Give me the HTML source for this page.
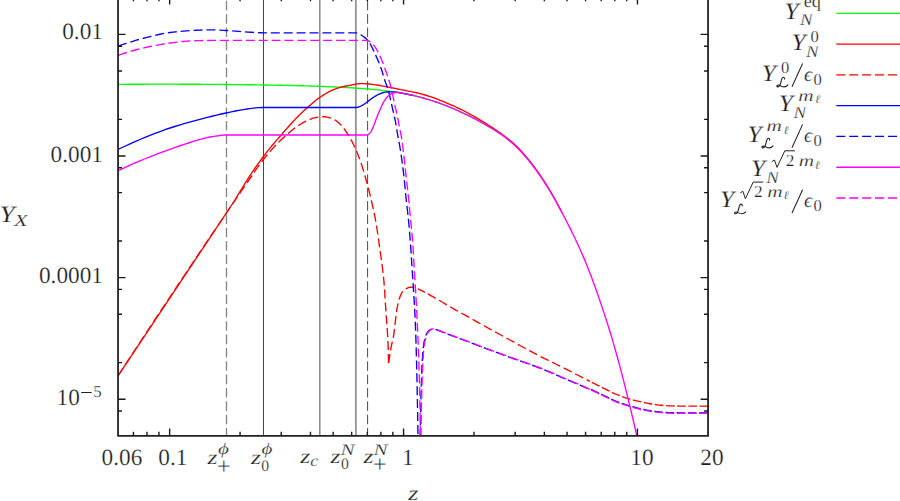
<!DOCTYPE html>
<html><head><meta charset="utf-8"><title>Y_X vs z</title>
<style>html,body{margin:0;padding:0;background:#fff;overflow:hidden}svg{display:block}text{font-family:"Liberation Serif",serif;text-rendering:geometricPrecision;stroke:#fff;stroke-width:0.22px}</style>
</head><body>
<svg width="900" height="501" viewBox="0 0 900 501">
<rect width="900" height="501" fill="#fff"/>
<defs><clipPath id="c"><rect x="118.05" y="-5" width="590.0" height="440.95"/></clipPath></defs>
<line x1="226.5" y1="-12.55" x2="226.5" y2="435.95" stroke="#878787" stroke-width="1.35" stroke-dasharray="9.6 3.75"/>
<line x1="263.5" y1="-12.55" x2="263.5" y2="435.95" stroke="#333" stroke-width="0.9"/>
<line x1="319.8" y1="-12.55" x2="319.8" y2="435.95" stroke="#808080" stroke-width="1.4"/>
<line x1="355.9" y1="-12.55" x2="355.9" y2="435.95" stroke="#808080" stroke-width="1.5"/>
<line x1="367.6" y1="-12.55" x2="367.6" y2="435.95" stroke="#4a4a4a" stroke-width="1.0" stroke-dasharray="9.6 3.75"/>
<g clip-path="url(#c)" fill="none" stroke-width="1.35" stroke-linejoin="round">
<path d="M118.00,84.37 L120.00,84.35 L122.00,84.34 L124.00,84.32 L126.00,84.31 L128.00,84.29 L130.00,84.28 L132.00,84.27 L134.00,84.26 L136.00,84.25 L138.00,84.24 L140.00,84.23 L142.00,84.22 L144.00,84.21 L146.00,84.20 L148.00,84.20 L150.00,84.19 L152.00,84.19 L154.00,84.19 L156.00,84.18 L158.00,84.18 L160.00,84.18 L162.00,84.18 L164.00,84.18 L166.00,84.18 L168.00,84.18 L170.00,84.18 L172.00,84.19 L174.00,84.19 L176.00,84.19 L178.00,84.20 L180.00,84.20 L182.00,84.21 L184.00,84.21 L186.00,84.22 L188.00,84.23 L190.00,84.24 L192.00,84.25 L194.00,84.26 L196.00,84.27 L198.00,84.28 L200.00,84.29 L202.00,84.30 L204.00,84.31 L206.00,84.33 L208.00,84.34 L210.00,84.35 L212.00,84.37 L214.00,84.38 L216.00,84.40 L218.00,84.42 L220.00,84.43 L222.00,84.45 L224.00,84.47 L226.00,84.49 L228.00,84.51 L230.00,84.53 L232.00,84.55 L234.00,84.57 L236.00,84.59 L238.00,84.61 L240.00,84.64 L242.00,84.66 L244.00,84.68 L246.00,84.71 L248.00,84.74 L250.00,84.76 L252.00,84.79 L254.00,84.82 L256.00,84.85 L258.00,84.87 L260.00,84.90 L262.00,84.94 L264.00,84.97 L266.00,85.00 L268.00,85.03 L270.00,85.07 L272.00,85.10 L274.00,85.14 L276.00,85.18 L278.00,85.21 L280.00,85.25 L282.00,85.29 L284.00,85.34 L286.00,85.38 L288.00,85.42 L290.00,85.47 L292.00,85.51 L294.00,85.56 L296.00,85.61 L298.00,85.66 L300.00,85.71 L302.00,85.77 L304.00,85.82 L306.00,85.88 L308.00,85.94 L310.00,86.00 L312.00,86.06 L314.00,86.12 L316.00,86.19 L318.00,86.26 L320.00,86.33 L322.00,86.40 L324.00,86.48 L326.00,86.56 L328.00,86.64 L330.00,86.72 L332.00,86.80 L334.00,86.89 L336.00,86.98 L338.00,87.08 L340.00,87.18 L342.00,87.28 L344.00,87.38 L346.00,87.49 L348.00,87.60 L350.00,87.72 L352.00,87.84 L354.00,87.96 L356.00,88.09 L358.00,88.23 L360.00,88.36 L362.00,88.51 L364.00,88.66 L366.00,88.81 L368.00,88.97 L370.00,89.14 L372.00,89.32 L374.00,89.51 L376.00,89.70 L378.00,89.90 L380.00,90.11 L382.00,90.33 L384.00,90.57 L386.00,90.81 L388.00,91.06 L390.00,91.33 L392.00,91.61 L394.00,91.90 L396.00,92.21 L398.00,92.53 L400.00,92.86 L402.00,93.21 L404.00,93.58 L406.00,93.96 L408.00,94.36 L410.00,94.77 L412.00,95.21 L414.00,95.66 L416.00,96.14 L418.00,96.63 L420.00,97.14 L422.00,97.68 L424.00,98.24 L426.00,98.82 L428.00,99.42 L430.00,100.03 L432.00,100.67 L434.00,101.33 L436.00,102.01 L438.00,102.71 L440.00,103.43 L442.00,104.17 L444.00,104.92 L446.00,105.70 L448.00,106.49 L450.00,107.30 L452.00,108.13 L454.00,108.98 L456.00,109.85 L458.00,110.73 L460.00,111.63 L462.00,112.55 L464.00,113.49 L466.00,114.45 L468.00,115.42 L470.00,116.41 L472.00,117.42 L474.00,118.45 L476.00,119.49 L478.00,120.55 L480.00,121.63 L482.00,122.73 L484.00,123.85 L486.00,124.99 L488.00,126.14 L490.00,127.32 L492.00,128.52 L494.00,129.75 L496.00,131.01 L498.00,132.32 L500.00,133.67" stroke="#00ff00"/>
<path d="M118.00,376.00 L235.00,200.00 L238.50,194.03 L242.00,188.23 L245.50,182.60 L249.00,177.14 L252.50,171.85 L256.00,166.73 L259.50,161.78 L263.00,157.00 L265.44,153.79 L267.88,150.70 L270.31,147.70 L272.75,144.78 L275.19,141.92 L277.62,139.10 L280.06,136.30 L282.50,133.50 L284.31,131.42 L286.12,129.35 L287.94,127.29 L289.75,125.26 L291.56,123.26 L293.38,121.30 L295.19,119.37 L297.00,117.50 L298.31,116.17 L299.62,114.87 L300.94,113.58 L302.25,112.32 L303.56,111.08 L304.88,109.86 L306.19,108.67 L307.50,107.50 L309.06,106.13 L310.62,104.76 L312.19,103.42 L313.75,102.10 L315.31,100.82 L316.88,99.59 L318.44,98.41 L320.00,97.30 L321.25,96.45 L322.50,95.62 L323.75,94.81 L325.00,94.03 L326.25,93.29 L327.50,92.58 L328.75,91.92 L330.00,91.30 L331.25,90.72 L332.50,90.15 L333.75,89.61 L335.00,89.10 L336.25,88.62 L337.50,88.17 L338.75,87.76 L340.00,87.40 L341.25,87.08 L342.50,86.78 L343.75,86.52 L345.00,86.26 L346.25,86.02 L347.50,85.79 L348.75,85.55 L350.00,85.30 L350.75,85.14 L351.50,84.97 L352.25,84.80 L353.00,84.63 L353.75,84.48 L354.50,84.33 L355.25,84.20 L356.00,84.10 L356.75,84.01 L357.50,83.92 L358.25,83.84 L359.00,83.76 L359.75,83.70 L360.50,83.65 L361.25,83.61 L362.00,83.60 L362.75,83.61 L363.50,83.63 L364.25,83.66 L365.00,83.70 L365.75,83.74 L366.50,83.79 L367.25,83.85 L368.00,83.90 L368.75,83.96 L369.50,84.03 L370.25,84.11 L371.00,84.20 L371.75,84.30 L372.50,84.40 L373.25,84.50 L374.00,84.60 L375.49,84.81 L376.98,85.04 L378.46,85.28 L379.95,85.53 L381.44,85.79 L382.92,86.06 L384.41,86.33 L385.90,86.60 L387.40,86.88 L388.90,87.17 L390.40,87.47 L391.90,87.77 L393.40,88.08 L394.90,88.39 L396.40,88.70 L397.90,89.00 L399.40,89.30 L400.90,89.60 L402.40,89.89 L403.90,90.19 L405.40,90.49 L406.90,90.79 L408.40,91.09 L409.90,91.40 L411.17,91.66 L412.45,91.92 L413.73,92.18 L415.00,92.44 L416.27,92.72 L417.55,93.00 L418.83,93.29 L420.10,93.60 L421.78,94.03 L423.45,94.50 L425.12,94.98 L426.80,95.49 L428.48,96.02 L430.15,96.56 L431.82,97.12 L433.50,97.70 L435.18,98.30 L436.85,98.93 L438.52,99.59 L440.20,100.27 L441.88,100.97 L443.55,101.68 L445.22,102.39 L446.90,103.10 L448.57,103.81 L450.25,104.53 L451.93,105.26 L453.60,105.99 L455.27,106.75 L456.95,107.51 L458.62,108.30 L460.30,109.10 L461.96,109.92 L463.62,110.77 L465.29,111.64 L466.95,112.52 L468.61,113.42 L470.28,114.34 L471.94,115.27 L473.60,116.20 L475.28,117.15 L476.95,118.12 L478.62,119.09 L480.30,120.09 L481.98,121.09 L483.65,122.11 L485.32,123.15 L487.00,124.20 L488.62,125.23 L490.25,126.27 L491.88,127.33 L493.50,128.40 L495.12,129.49 L496.75,130.60 L498.38,131.74 L500.00,132.90 L501.88,134.26 L503.75,135.62 L505.62,137.01 L507.50,138.44 L509.38,139.91 L511.25,141.45 L513.12,143.06 L515.00,144.76 L517.50,147.18 L520.00,149.77 L522.50,152.52 L525.00,155.41 L527.50,158.41 L530.00,161.53 L532.50,164.73 L535.00,168.01 L536.88,170.55 L538.75,173.19 L540.62,175.92 L542.50,178.75 L544.38,181.65 L546.25,184.62 L548.12,187.66 L550.00,190.75 L551.50,193.28 L553.00,195.87 L554.50,198.53 L556.00,201.25 L557.50,204.02 L559.00,206.85 L560.50,209.72 L562.00,212.64" stroke="#ff0000"/>
<path d="M118.00,376.00 L137.50,346.05 L157.00,316.42 L176.50,287.07 L196.00,257.96 L215.50,229.05 L235.00,200.30 L237.50,196.63 L240.00,192.98 L242.50,189.34 L245.00,185.71 L247.50,182.10 L250.00,178.50 L252.17,175.35 L254.33,172.17 L256.50,168.99 L258.67,165.88 L260.83,162.86 L263.00,160.00 L265.00,157.48 L267.00,155.03 L269.00,152.66 L271.00,150.37 L273.00,148.15 L275.00,146.00 L276.67,144.26 L278.33,142.58 L280.00,140.94 L281.67,139.35 L283.33,137.80 L285.00,136.30 L287.00,134.53 L289.00,132.77 L291.00,131.07 L293.00,129.44 L295.00,127.91 L297.00,126.50 L298.75,125.35 L300.50,124.24 L302.25,123.19 L304.00,122.21 L305.75,121.31 L307.50,120.50 L308.92,119.88 L310.33,119.27 L311.75,118.70 L313.17,118.19 L314.58,117.79 L316.00,117.50 L317.29,117.31 L318.58,117.13 L319.88,116.98 L321.17,116.86 L322.46,116.78 L323.75,116.75 L324.79,116.79 L325.83,116.91 L326.88,117.08 L327.92,117.30 L328.96,117.54 L330.00,117.80 L330.83,118.04 L331.67,118.34 L332.50,118.70 L333.33,119.10 L334.17,119.54 L335.00,120.00 L335.83,120.51 L336.67,121.10 L337.50,121.75 L338.33,122.46 L339.17,123.21 L340.00,124.00 L340.83,124.84 L341.67,125.76 L342.50,126.74 L343.33,127.78 L344.17,128.87 L345.00,130.00 L346.25,131.79 L347.50,133.69 L348.75,135.72 L350.00,137.87 L351.25,140.13 L352.50,142.50 L353.75,145.01 L355.00,147.68 L356.25,150.52 L357.50,153.51 L358.75,156.67 L360.00,160.00 L360.83,162.35 L361.67,164.85 L362.50,167.49 L363.33,170.23 L364.17,173.08 L365.00,176.00 L365.32,177.12 L365.64,178.25 L365.96,179.38 L366.28,180.50 L366.59,181.62 L366.90,182.75 L367.20,183.88 L367.50,185.00 L367.99,186.88 L368.48,188.75 L368.96,190.62 L369.44,192.50 L369.91,194.38 L370.36,196.25 L370.81,198.12 L371.25,200.00 L371.83,202.50 L372.40,205.00 L372.96,207.50 L373.51,210.00 L374.04,212.50 L374.55,215.00 L375.04,217.50 L375.50,220.00 L376.15,223.75 L376.75,227.50 L377.33,231.25 L377.89,235.00 L378.42,238.75 L378.95,242.50 L379.47,246.25 L380.00,250.00 L380.36,252.50 L380.71,255.00 L381.06,257.50 L381.41,260.00 L381.75,262.50 L382.08,265.00 L382.40,267.50 L382.70,270.00 L382.90,271.68 L383.09,273.35 L383.28,275.02 L383.46,276.70 L383.63,278.38 L383.80,280.05 L383.96,281.72 L384.10,283.40 L384.29,285.90 L384.47,288.40 L384.63,290.90 L384.79,293.40 L384.93,295.90 L385.08,298.40 L385.24,300.90 L385.40,303.40 L385.57,305.91 L385.75,308.42 L385.93,310.94 L386.11,313.45 L386.29,315.96 L386.46,318.48 L386.63,320.99 L386.80,323.50 L386.98,326.19 L387.17,328.88 L387.36,331.56 L387.54,334.25 L387.72,336.94 L387.87,339.62 L388.00,342.31 L388.10,345.00 L388.17,347.50 L388.25,350.00 L388.31,352.50 L388.37,355.00 L388.42,357.50 L388.46,360.00 L388.49,362.50 L388.50,365.00 L388.72,363.20 L388.94,361.45 L389.16,359.75 L389.39,358.10 L389.61,356.49 L389.84,354.94 L390.07,353.45 L390.30,352.00 L390.48,350.91 L390.66,349.86 L390.85,348.84 L391.03,347.85 L391.22,346.88 L391.41,345.92 L391.60,344.96 L391.80,344.00 L391.99,343.11 L392.20,342.24 L392.40,341.40 L392.61,340.56 L392.82,339.70 L393.02,338.82 L393.22,337.89 L393.40,336.90 L393.63,335.44 L393.86,333.87 L394.07,332.21 L394.28,330.48 L394.48,328.72 L394.69,326.96 L394.89,325.21 L395.10,323.50 L395.31,321.81 L395.51,320.11 L395.71,318.40 L395.91,316.70 L396.11,315.01 L396.33,313.34 L396.55,311.70 L396.80,310.10 L397.03,308.69 L397.28,307.29 L397.54,305.91 L397.81,304.55 L398.10,303.21 L398.41,301.91 L398.74,300.63 L399.10,299.40 L399.46,298.29 L399.85,297.16 L400.29,296.04 L400.75,294.95 L401.24,293.91 L401.75,292.96 L402.27,292.11 L402.80,291.40 L403.18,290.97 L403.58,290.56 L404.00,290.19 L404.43,289.84 L404.87,289.51 L405.31,289.22 L405.76,288.95 L406.20,288.70 L406.60,288.49 L407.00,288.28 L407.40,288.08 L407.81,287.90 L408.22,287.73 L408.64,287.59 L409.07,287.48 L409.50,287.40 L409.98,287.34 L410.48,287.28 L411.00,287.23 L411.52,287.19 L412.04,287.15 L412.55,287.12 L413.04,287.11 L413.50,287.10 L413.86,287.12 L414.18,287.19 L414.49,287.30 L414.79,287.43 L415.10,287.58 L415.43,287.75 L415.80,287.93 L416.20,288.10 L417.14,288.49 L418.19,288.97 L419.37,289.53 L420.65,290.16 L422.05,290.87 L423.56,291.65 L425.00,292.40" stroke="#ff0000" stroke-dasharray="9.0 3.9" stroke-dashoffset="0.00"/>
<path d="M425.00,292.40 L425.18,292.49 L426.90,293.40 L429.13,294.65 L431.37,295.90 L433.60,297.17 L435.83,298.44 L438.07,299.72 L440.30,301.00 L442.52,302.29 L444.73,303.60 L446.95,304.91 L449.17,306.23 L451.38,307.52 L453.60,308.80 L455.83,310.06 L458.07,311.30 L460.30,312.52 L462.53,313.74 L464.77,314.96 L467.00,316.20 L469.17,317.41 L471.33,318.63 L473.50,319.85 L475.67,321.07 L477.83,322.29 L480.00,323.50 L485.00,326.28 L490.00,329.04 L495.00,331.79 L500.00,334.53 L505.00,337.27 L510.00,340.00 L515.00,342.74 L520.00,345.49 L525.00,348.24 L530.00,350.96 L535.00,353.63 L540.00,356.25 L544.17,358.37 L548.33,360.43 L552.50,362.47 L556.67,364.49 L560.83,366.53 L565.00,368.60 L569.17,370.71 L573.33,372.85 L577.50,374.99 L581.67,377.14 L585.83,379.28 L590.00,381.40" stroke="#ff0000" stroke-dasharray="9.0 3.9" stroke-dashoffset="9.75"/>
<path d="M590.00,381.40 L590.00,381.40 L592.23,382.53 L594.47,383.66 L596.70,384.78 L598.93,385.89 L601.17,387.00 L603.40,388.10 L605.63,389.21 L607.87,390.33 L610.10,391.44 L612.33,392.52 L614.57,393.55 L616.80,394.50 L619.02,395.39 L621.23,396.24 L623.45,397.05 L625.67,397.82 L627.88,398.54 L630.10,399.20 L632.33,399.82 L634.57,400.39 L636.80,400.93 L639.03,401.45 L641.27,401.93 L643.50,402.40 L645.73,402.86 L647.97,403.32 L650.20,403.75 L652.43,404.16 L654.67,404.51 L656.90,404.80 L659.13,405.05 L661.37,405.28 L663.60,405.50 L665.83,405.68 L668.07,405.81 L670.30,405.90 L672.52,405.95 L674.73,406.00 L676.95,406.04 L679.17,406.07 L681.38,406.09 L683.60,406.10 L687.70,406.10 L691.80,406.10 L695.90,406.10 L700.00,406.10 L704.10,406.10 L708.20,406.10" stroke="#ff0000" stroke-dasharray="8.6 2.6" stroke-dashoffset="9.11"/>
<path d="M118.00,149.50 L121.67,147.74 L125.33,146.01 L129.00,144.32 L132.67,142.66 L136.33,141.06 L140.00,139.50 L145.00,137.43 L150.00,135.40 L155.00,133.43 L160.00,131.53 L165.00,129.71 L170.00,128.00 L174.67,126.49 L179.33,125.05 L184.00,123.67 L188.67,122.34 L193.33,121.05 L198.00,119.80 L202.67,118.57 L207.33,117.38 L212.00,116.22 L216.67,115.10 L221.33,114.03 L226.00,113.00 L229.17,112.32 L232.33,111.65 L235.50,110.99 L238.67,110.38 L241.83,109.81 L245.00,109.30 L247.17,108.97 L249.33,108.65 L251.50,108.34 L253.67,108.07 L255.83,107.85 L258.00,107.70 L258.92,107.65 L259.83,107.61 L260.75,107.57 L261.67,107.54 L262.58,107.51 L263.50,107.50 L355.80,107.50 L356.01,107.49 L356.23,107.48 L356.44,107.46 L356.65,107.43 L356.86,107.40 L357.07,107.37 L357.29,107.34 L357.50,107.30 L357.76,107.25 L358.02,107.18 L358.29,107.10 L358.55,107.01 L358.81,106.91 L359.08,106.81 L359.34,106.71 L359.60,106.60 L360.20,106.35 L360.80,106.07 L361.40,105.76 L362.00,105.44 L362.60,105.10 L363.20,104.74 L363.80,104.37 L364.40,104.00 L365.00,103.60 L365.60,103.18 L366.20,102.73 L366.80,102.26 L367.40,101.79 L368.00,101.31 L368.60,100.85 L369.20,100.40 L369.80,99.96 L370.40,99.52 L371.00,99.07 L371.60,98.63 L372.20,98.20 L372.80,97.78 L373.40,97.38 L374.00,97.00 L374.74,96.54 L375.48,96.09 L376.21,95.65 L376.95,95.22 L377.69,94.81 L378.42,94.44 L379.16,94.10 L379.90,93.80 L380.65,93.52 L381.40,93.24 L382.15,92.98 L382.90,92.73 L383.65,92.52 L384.40,92.33 L385.15,92.19 L385.90,92.10 L386.65,92.04 L387.40,91.98 L388.15,91.93 L388.90,91.89 L389.65,91.85 L390.40,91.82 L391.15,91.81 L391.90,91.80 L392.65,91.82 L393.40,91.86 L394.15,91.92 L394.90,92.01 L395.65,92.10 L396.40,92.20 L397.15,92.31 L397.90,92.41 L398.66,92.52 L399.42,92.64 L400.19,92.77 L400.95,92.91 L401.71,93.07 L402.48,93.23 L403.24,93.40 L404.00,93.58 L406.00,93.96 L408.00,94.36 L410.00,94.77 L412.00,95.21 L414.00,95.66" stroke="#0000ff"/>
<path d="M118.00,46.30 L121.67,44.98 L125.33,43.70 L129.00,42.48 L132.67,41.31 L136.33,40.22 L140.00,39.20 L145.00,37.87 L150.00,36.57 L155.00,35.34 L160.00,34.22 L165.00,33.26 L170.00,32.50 L173.33,32.08 L176.67,31.71 L180.00,31.37 L183.33,31.07 L186.67,30.81 L190.00,30.60 L193.33,30.41 L196.67,30.23 L200.00,30.06 L203.33,29.92 L206.67,29.83 L210.00,29.80 L212.67,29.83 L215.33,29.92 L218.00,30.04 L220.67,30.19 L223.33,30.35 L226.00,30.50 L229.17,30.70 L232.33,30.93 L235.50,31.18 L238.67,31.44 L241.83,31.68 L245.00,31.90 L248.08,32.09 L251.17,32.27 L254.25,32.44 L257.33,32.60 L260.42,32.76 L263.50,32.90 L357.50,32.90 L358.01,33.16 L358.52,33.42 L359.02,33.69 L359.50,33.95 L359.97,34.21 L360.42,34.48 L360.85,34.74 L361.25,35.00 L362.28,35.72 L363.28,36.44 L364.23,37.16 L365.12,37.88 L365.95,38.59 L366.71,39.31 L367.40,40.03 L368.00,40.75 L369.18,42.38 L370.22,44.00 L371.15,45.62 L371.99,47.25 L372.77,48.88 L373.52,50.50 L374.25,52.12 L375.00,53.75 L375.87,55.62 L376.72,57.50 L377.55,59.38 L378.35,61.25 L379.12,63.12 L379.86,65.00 L380.57,66.88 L381.25,68.75 L381.73,70.16 L382.17,71.56 L382.60,72.97 L383.01,74.38 L383.42,75.78 L383.83,77.19 L384.26,78.59 L384.70,80.00 L385.14,81.31 L385.60,82.62 L386.08,83.94 L386.55,85.25 L387.02,86.56 L387.48,87.88 L387.91,89.19 L388.30,90.50 L388.64,91.74 L388.96,92.97 L389.27,94.21 L389.56,95.45 L389.85,96.69 L390.13,97.93 L390.41,99.16 L390.70,100.40 L391.01,101.74 L391.31,103.08 L391.61,104.41 L391.91,105.75 L392.21,107.09 L392.51,108.42 L392.80,109.76 L393.10,111.10 L393.41,112.45 L393.72,113.80 L394.03,115.15 L394.34,116.50 L394.65,117.85 L394.95,119.20 L395.23,120.55 L395.50,121.90 L395.83,123.70 L396.14,125.50 L396.44,127.30 L396.73,129.10 L397.01,130.90 L397.30,132.70 L397.59,134.50 L397.90,136.30 L398.16,137.70 L398.42,139.10 L398.70,140.50 L398.97,141.90 L399.24,143.30 L399.51,144.70 L399.76,146.10 L400.00,147.50 L400.54,150.94 L401.06,154.38 L401.56,157.81 L402.03,161.25 L402.49,164.69 L402.93,168.12 L403.35,171.56 L403.75,175.00 L404.10,178.12 L404.42,181.25 L404.73,184.38 L405.03,187.50 L405.32,190.62 L405.62,193.75 L405.93,196.88 L406.25,200.00 L406.50,202.25 L406.76,204.50 L407.02,206.75 L407.29,209.00 L407.56,211.25 L407.82,213.50 L408.07,215.75 L408.30,218.00 L408.54,220.44 L408.77,222.88 L408.99,225.31 L409.20,227.75 L409.41,230.19 L409.61,232.62 L409.81,235.06 L410.00,237.50 L410.35,242.19 L410.68,246.88 L411.00,251.56 L411.31,256.25 L411.61,260.94 L411.90,265.62 L412.20,270.31 L412.50,275.00 L412.79,279.38 L413.08,283.75 L413.37,288.12 L413.66,292.50 L413.94,296.88 L414.21,301.25 L414.46,305.62 L414.70,310.00 L414.83,312.50 L414.95,315.00 L415.07,317.50 L415.19,320.00 L415.30,322.50 L415.41,325.00 L415.51,327.50 L415.60,330.00 L415.78,335.35 L415.96,340.70 L416.12,346.05 L416.27,351.40 L416.41,356.75 L416.55,362.10 L416.68,367.45 L416.80,372.80 L416.98,380.82 L417.15,388.85 L417.32,396.88 L417.48,404.90 L417.63,412.93 L417.76,420.95 L417.89,428.98 L418.00,437.00" stroke="#0000ff" stroke-dasharray="9.0 3.9" stroke-dashoffset="12.80"/>
<path d="M420.20,437.00 L420.25,433.62 L420.31,430.25 L420.37,426.88 L420.43,423.50 L420.50,420.12 L420.56,416.75 L420.63,413.38 L420.70,410.00 L420.77,406.93 L420.83,403.85 L420.90,400.77 L420.97,397.70 L421.04,394.62 L421.12,391.55 L421.21,388.47 L421.30,385.40 L421.42,381.62 L421.54,377.85 L421.67,374.07 L421.82,370.30 L421.98,366.52 L422.16,362.75 L422.37,358.97 L422.60,355.20 L422.70,353.80 L422.81,352.40 L422.94,351.00 L423.09,349.60 L423.25,348.20 L423.42,346.80 L423.60,345.40 L423.80,344.00 L423.92,343.21 L424.05,342.43 L424.19,341.64 L424.35,340.85 L424.52,340.06 L424.70,339.27 L424.89,338.49 L425.10,337.70 L425.26,337.15 L425.44,336.60 L425.64,336.05 L425.85,335.50 L426.07,334.95 L426.31,334.40 L426.55,333.85 L426.80,333.30 L427.13,332.78 L427.47,332.29 L427.80,331.83 L428.13,331.41 L428.47,331.03 L428.80,330.70 L429.10,330.43 L429.40,330.17 L429.70,329.93 L430.00,329.71 L430.30,329.54 L430.60,329.40 L430.93,329.28 L431.27,329.16 L431.60,329.06 L431.93,328.97 L432.27,328.92 L432.60,328.90 L433.18,328.93 L433.77,329.01 L434.35,329.14 L434.93,329.28 L435.52,329.44 L436.10,329.60 L436.78,329.81 L437.47,330.06 L438.15,330.34 L438.83,330.63 L439.52,330.92 L440.20,331.20 L444.27,332.76 L448.33,334.29 L452.40,335.82 L456.47,337.34 L460.53,338.87 L464.60,340.40 L468.90,342.03 L473.20,343.68 L477.50,345.32 L481.80,346.96 L486.10,348.59 L490.40,350.20 L494.43,351.69 L498.47,353.16 L502.50,354.63 L506.53,356.09 L510.57,357.54 L514.60,359.00 L518.77,360.49 L522.93,361.95 L527.10,363.41 L531.27,364.89 L535.43,366.42 L539.60,368.00 L543.77,369.66 L547.93,371.40 L552.10,373.18 L556.27,374.99 L560.43,376.80 L564.60,378.60 L568.77,380.38 L572.93,382.15 L577.10,383.92 L581.27,385.72 L585.43,387.54 L589.60,389.40" stroke="#0000ff" stroke-dasharray="9.0 3.9" stroke-dashoffset="1.30"/>
<path d="M590.00,388.95 L590.00,388.95 L592.23,389.97 L594.47,391.01 L596.70,392.06 L598.93,393.12 L601.17,394.19 L603.40,395.25 L605.63,396.34 L607.87,397.47 L610.10,398.60 L612.33,399.70 L614.57,400.73 L616.80,401.65 L619.02,402.47 L621.23,403.24 L623.45,403.96 L625.67,404.65 L627.88,405.31 L630.10,405.95 L632.33,406.59 L634.57,407.23 L636.80,407.85 L639.03,408.43 L641.27,408.97 L643.50,409.45 L645.73,409.89 L647.97,410.32 L650.20,410.72 L652.43,411.08 L654.67,411.39 L656.90,411.65 L659.13,411.88 L661.37,412.09 L663.60,412.28 L665.83,412.44 L668.07,412.57 L670.30,412.65 L672.52,412.70 L674.73,412.75 L676.95,412.79 L679.17,412.82 L681.38,412.84 L683.60,412.85 L687.70,412.85 L691.80,412.85 L695.90,412.85 L700.00,412.85 L704.10,412.85 L708.20,412.85" stroke="#0000ff" stroke-dasharray="8.6 2.6" stroke-dashoffset="9.98"/>
<path d="M118.00,170.80 L121.67,169.04 L125.33,167.31 L129.00,165.62 L132.67,163.96 L136.33,162.36 L140.00,160.80 L145.00,158.75 L150.00,156.76 L155.00,154.83 L160.00,152.95 L165.00,151.11 L170.00,149.30 L173.33,148.11 L176.67,146.92 L180.00,145.76 L183.33,144.63 L186.67,143.54 L190.00,142.50 L193.33,141.47 L196.67,140.45 L200.00,139.46 L203.33,138.53 L206.67,137.70 L210.00,137.00 L211.33,136.76 L212.67,136.55 L214.00,136.35 L215.33,136.17 L216.67,135.98 L218.00,135.80 L219.00,135.66 L220.00,135.52 L221.00,135.39 L222.00,135.26 L223.00,135.13 L224.00,135.00 L367.75,135.00 L367.94,134.85 L368.14,134.69 L368.33,134.53 L368.52,134.36 L368.72,134.18 L368.91,133.99 L369.11,133.80 L369.30,133.60 L369.51,133.38 L369.73,133.15 L369.94,132.91 L370.15,132.66 L370.36,132.39 L370.57,132.11 L370.79,131.82 L371.00,131.50 L371.38,130.87 L371.75,130.16 L372.12,129.37 L372.50,128.53 L372.88,127.65 L373.25,126.74 L373.62,125.82 L374.00,124.90 L374.36,123.99 L374.73,123.04 L375.09,122.05 L375.45,121.04 L375.81,120.03 L376.17,119.02 L376.54,118.04 L376.90,117.10 L377.27,116.16 L377.65,115.22 L378.02,114.31 L378.40,113.40 L378.77,112.51 L379.15,111.63 L379.52,110.76 L379.90,109.90 L380.27,109.04 L380.65,108.18 L381.02,107.33 L381.40,106.49 L381.77,105.67 L382.15,104.87 L382.52,104.11 L382.90,103.40 L383.27,102.72 L383.65,102.05 L384.02,101.40 L384.40,100.77 L384.77,100.18 L385.15,99.61 L385.52,99.09 L385.90,98.60 L386.35,98.05 L386.80,97.53 L387.25,97.03 L387.70,96.56 L388.15,96.12 L388.60,95.71 L389.05,95.34 L389.50,95.00 L389.95,94.68 L390.40,94.36 L390.85,94.06 L391.30,93.77 L391.75,93.52 L392.20,93.30 L392.65,93.12 L393.10,93.00 L393.70,92.88 L394.30,92.77 L394.90,92.67 L395.50,92.58 L396.10,92.51 L396.70,92.46 L397.30,92.42 L397.90,92.41 L398.66,92.43 L399.42,92.49 L400.19,92.58 L400.95,92.71 L401.71,92.88 L402.48,93.08 L403.24,93.31 L404.00,93.58 L406.00,93.96 L408.00,94.36 L410.00,94.77 L412.00,95.21 L414.00,95.66 L416.00,96.14 L418.00,96.63 L420.00,97.14 L422.00,97.68 L424.00,98.24 L426.00,98.82 L428.00,99.42 L430.00,100.03 L432.00,100.67 L434.00,101.33 L436.00,102.01 L438.00,102.71 L440.00,103.43 L442.00,104.17 L444.00,104.92 L446.00,105.70 L448.00,106.49 L450.00,107.30 L452.00,108.13 L454.00,108.98 L456.00,109.85 L458.00,110.73 L460.00,111.63 L462.00,112.55 L464.00,113.49 L466.00,114.45 L468.00,115.42 L470.00,116.41 L472.00,117.42 L474.00,118.45 L476.00,119.49 L478.00,120.55 L480.00,121.63 L482.00,122.73 L484.00,123.85 L486.00,124.99 L488.00,126.14 L490.00,127.32 L492.00,128.52 L494.00,129.75 L496.00,131.01 L498.00,132.32 L500.00,133.67 L502.00,135.06 L504.00,136.52 L506.00,138.02 L508.00,139.60 L510.00,141.24 L512.00,142.95 L514.00,144.74 L516.00,146.61 L518.00,148.56 L520.00,150.61 L522.00,152.74 L524.00,154.96 L526.00,157.26 L528.00,159.64 L530.00,162.10 L532.00,164.65 L534.00,167.27 L536.00,169.97 L538.00,172.74 L540.00,175.60 L542.00,178.52 L544.00,181.52 L546.00,184.60 L548.00,187.77 L550.00,191.05 L552.00,194.43 L554.00,197.92 L556.00,201.49 L558.00,205.15 L560.00,208.87 L562.00,212.64 L564.00,216.46 L566.00,220.31 L568.00,224.21 L570.00,228.16 L572.00,232.19 L574.00,236.29 L576.00,240.48 L578.00,244.78 L580.00,249.19 L582.00,253.72 L584.00,258.38 L586.00,263.19 L588.00,268.16 L590.00,273.29 L592.00,278.56 L594.00,283.98 L596.00,289.52 L598.00,295.19 L600.00,300.98 L602.00,306.88 L604.00,312.89 L606.00,319.02 L608.00,325.29 L610.00,331.73 L612.00,338.35 L614.00,345.18 L616.00,352.22 L618.00,359.46 L620.00,366.89 L622.00,374.51 L624.00,382.30 L626.00,390.25 L628.00,398.36 L630.00,406.60 L632.00,414.98 L634.00,423.48 L636.00,432.08 L638.00,441.04 L640.00,450.44" stroke="#ff00ff"/>
<path d="M118.00,55.50 L121.67,54.23 L125.33,53.01 L129.00,51.84 L132.67,50.74 L136.33,49.73 L140.00,48.80 L145.00,47.63 L150.00,46.52 L155.00,45.49 L160.00,44.55 L165.00,43.71 L170.00,43.00 L173.33,42.58 L176.67,42.17 L180.00,41.80 L183.33,41.47 L186.67,41.20 L190.00,41.00 L192.50,40.88 L195.00,40.77 L197.50,40.67 L200.00,40.59 L202.50,40.54 L205.00,40.50 L208.50,40.47 L212.00,40.45 L215.50,40.43 L219.00,40.41 L222.50,40.40 L226.00,40.40 L368.00,40.40 L368.63,40.82 L369.27,41.24 L369.90,41.66 L370.50,42.08 L371.08,42.49 L371.61,42.91 L372.09,43.33 L372.50,43.75 L373.81,45.31 L374.96,46.88 L375.99,48.44 L376.90,50.00 L377.73,51.56 L378.51,53.12 L379.26,54.69 L380.00,56.25 L380.73,57.81 L381.41,59.38 L382.05,60.94 L382.67,62.50 L383.27,64.06 L383.85,65.62 L384.42,67.19 L385.00,68.75 L385.52,70.16 L386.03,71.56 L386.54,72.97 L387.04,74.38 L387.52,75.78 L388.00,77.19 L388.46,78.59 L388.90,80.00 L389.31,81.35 L389.72,82.70 L390.12,84.05 L390.50,85.40 L390.87,86.75 L391.23,88.10 L391.58,89.45 L391.90,90.80 L392.24,92.30 L392.55,93.80 L392.84,95.30 L393.13,96.80 L393.41,98.30 L393.70,99.80 L393.99,101.30 L394.30,102.80 L394.66,104.44 L395.04,106.08 L395.42,107.71 L395.81,109.35 L396.20,110.99 L396.58,112.62 L396.95,114.26 L397.30,115.90 L397.54,117.10 L397.77,118.30 L397.99,119.50 L398.21,120.70 L398.43,121.90 L398.65,123.10 L398.87,124.30 L399.10,125.50 L399.40,127.00 L399.71,128.50 L400.03,130.00 L400.35,131.50 L400.66,133.00 L400.96,134.50 L401.24,136.00 L401.50,137.50 L401.75,139.06 L401.98,140.62 L402.20,142.19 L402.41,143.75 L402.61,145.31 L402.81,146.88 L403.01,148.44 L403.20,150.00 L403.62,153.44 L404.01,156.88 L404.40,160.31 L404.77,163.75 L405.14,167.19 L405.50,170.62 L405.87,174.06 L406.25,177.50 L406.57,180.31 L406.89,183.12 L407.21,185.94 L407.53,188.75 L407.85,191.56 L408.16,194.38 L408.46,197.19 L408.75,200.00 L408.97,202.25 L409.18,204.50 L409.39,206.75 L409.59,209.00 L409.79,211.25 L409.99,213.50 L410.19,215.75 L410.40,218.00 L410.64,220.44 L410.89,222.88 L411.14,225.31 L411.39,227.75 L411.64,230.19 L411.88,232.62 L412.10,235.06 L412.30,237.50 L412.64,242.19 L412.96,246.88 L413.25,251.56 L413.53,256.25 L413.79,260.94 L414.06,265.62 L414.32,270.31 L414.60,275.00 L414.87,279.38 L415.14,283.75 L415.42,288.12 L415.69,292.50 L415.96,296.88 L416.22,301.25 L416.47,305.62 L416.70,310.00 L416.82,312.50 L416.94,315.00 L417.06,317.50 L417.17,320.00 L417.28,322.50 L417.39,325.00 L417.50,327.50 L417.60,330.00 L417.82,335.35 L418.05,340.70 L418.27,346.05 L418.48,351.40 L418.69,356.75 L418.88,362.10 L419.05,367.45 L419.20,372.80 L419.40,380.82 L419.60,388.85 L419.78,396.88 L419.94,404.90 L420.09,412.93 L420.22,420.95 L420.32,428.98 L420.40,437.00" stroke="#ff00ff" stroke-dasharray="9.0 3.9" stroke-dashoffset="12.41"/>
<path d="M420.90,437.00 L420.95,433.62 L421.01,430.25 L421.07,426.88 L421.13,423.50 L421.20,420.12 L421.26,416.75 L421.33,413.38 L421.40,410.00 L421.47,406.93 L421.53,403.85 L421.60,400.77 L421.67,397.70 L421.74,394.62 L421.82,391.55 L421.91,388.47 L422.00,385.40 L422.12,381.62 L422.24,377.85 L422.37,374.07 L422.52,370.30 L422.68,366.52 L422.86,362.75 L423.07,358.97 L423.30,355.20 L423.40,353.80 L423.51,352.40 L423.64,351.00 L423.79,349.60 L423.95,348.20 L424.12,346.80 L424.30,345.40 L424.50,344.00 L424.62,343.21 L424.75,342.43 L424.89,341.64 L425.05,340.85 L425.22,340.06 L425.40,339.27 L425.59,338.49 L425.80,337.70 L425.96,337.15 L426.14,336.60 L426.34,336.05 L426.55,335.50 L426.77,334.95 L427.01,334.40 L427.25,333.85 L427.50,333.30 L427.83,332.78 L428.17,332.29 L428.50,331.83 L428.83,331.41 L429.17,331.03 L429.50,330.70 L429.80,330.43 L430.10,330.17 L430.40,329.93 L430.70,329.71 L431.00,329.54 L431.30,329.40 L431.63,329.28 L431.97,329.16 L432.30,329.06 L432.63,328.97 L432.97,328.92 L433.30,328.90 L433.88,328.93 L434.47,329.01 L435.05,329.14 L435.63,329.28 L436.22,329.44 L436.80,329.60 L437.48,329.81 L438.17,330.06 L438.85,330.34 L439.53,330.63 L440.22,330.92 L440.90,331.20 L444.97,332.76 L449.03,334.29 L453.10,335.82 L457.17,337.34 L461.23,338.87 L465.30,340.40 L469.60,342.03 L473.90,343.68 L478.20,345.32 L482.50,346.96 L486.80,348.59 L491.10,350.20 L495.13,351.69 L499.17,353.16 L503.20,354.63 L507.23,356.09 L511.27,357.54 L515.30,359.00 L519.47,360.49 L523.63,361.95 L527.80,363.41 L531.97,364.89 L536.13,366.42 L540.30,368.00 L544.47,369.66 L548.63,371.40 L552.80,373.18 L556.97,374.99 L561.13,376.80 L565.30,378.60 L569.47,380.38 L573.63,382.15 L577.80,383.92 L581.97,385.72 L586.13,387.54 L590.30,389.40" stroke="#ff00ff" stroke-dasharray="9.0 3.9" stroke-dashoffset="0.00"/>
<path d="M590.00,389.50 L590.00,389.50 L592.23,390.52 L594.47,391.56 L596.70,392.61 L598.93,393.67 L601.17,394.74 L603.40,395.80 L605.63,396.89 L607.87,398.02 L610.10,399.15 L612.33,400.25 L614.57,401.28 L616.80,402.20 L619.02,403.02 L621.23,403.79 L623.45,404.51 L625.67,405.20 L627.88,405.86 L630.10,406.50 L632.33,407.14 L634.57,407.78 L636.80,408.40 L639.03,408.98 L641.27,409.52 L643.50,410.00 L645.73,410.44 L647.97,410.87 L650.20,411.27 L652.43,411.63 L654.67,411.94 L656.90,412.20 L659.13,412.43 L661.37,412.64 L663.60,412.83 L665.83,412.99 L668.07,413.12 L670.30,413.20 L672.52,413.25 L674.73,413.30 L676.95,413.34 L679.17,413.37 L681.38,413.39 L683.60,413.40 L687.70,413.40 L691.80,413.40 L695.90,413.40 L700.00,413.40 L704.10,413.40 L708.20,413.40" stroke="#ff00ff" stroke-dasharray="8.6 2.6" stroke-dashoffset="9.58"/>
</g>
<g stroke="#222" fill="none">
<path d="M118.05,-5 V435.95 H708.05 V-5" stroke-width="1.8"/>
<path d="M169.65,435.95 v-7.5 M169.65,-3.0 v7.5 M403.55,435.95 v-7.5 M403.55,-3.0 v7.5 M637.45,435.95 v-7.5 M637.45,-3.0 v7.5 M133.42,435.95 v-4.2 M133.42,-3.0 v4.3 M146.98,435.95 v-4.2 M146.98,-3.0 v4.3 M158.95,435.95 v-4.2 M158.95,-3.0 v4.3 M240.06,435.95 v-4.2 M240.06,-3.0 v4.3 M281.25,435.95 v-4.2 M281.25,-3.0 v4.3 M310.47,435.95 v-4.2 M310.47,-3.0 v4.3 M333.14,435.95 v-4.2 M333.14,-3.0 v4.3 M351.66,435.95 v-4.2 M351.66,-3.0 v4.3 M367.32,435.95 v-4.2 M367.32,-3.0 v4.3 M380.88,435.95 v-4.2 M380.88,-3.0 v4.3 M392.85,435.95 v-4.2 M392.85,-3.0 v4.3 M473.96,435.95 v-4.2 M473.96,-3.0 v4.3 M515.15,435.95 v-4.2 M515.15,-3.0 v4.3 M544.37,435.95 v-4.2 M544.37,-3.0 v4.3 M567.04,435.95 v-4.2 M567.04,-3.0 v4.3 M585.56,435.95 v-4.2 M585.56,-3.0 v4.3 M601.22,435.95 v-4.2 M601.22,-3.0 v4.3 M614.78,435.95 v-4.2 M614.78,-3.0 v4.3 M626.75,435.95 v-4.2 M626.75,-3.0 v4.3 M118.05,34.40 h7.5 M708.05,34.40 h-7.5 M118.05,156.00 h7.5 M708.05,156.00 h-7.5 M118.05,277.60 h7.5 M708.05,277.60 h-7.5 M118.05,399.20 h7.5 M708.05,399.20 h-7.5 M118.05,119.39 h4 M708.05,119.39 h-4 M118.05,71.01 h4 M708.05,71.01 h-4 M118.05,46.18 h4 M708.05,46.18 h-4 M118.05,240.99 h4 M708.05,240.99 h-4 M118.05,192.61 h4 M708.05,192.61 h-4 M118.05,167.78 h4 M708.05,167.78 h-4 M118.05,362.59 h4 M708.05,362.59 h-4 M118.05,314.21 h4 M708.05,314.21 h-4 M118.05,289.38 h4 M708.05,289.38 h-4 M118.05,410.98 h4 M708.05,410.98 h-4" stroke-width="1.4" stroke="#1a1a1a"/>
</g>
<g font-family="Liberation Serif, serif" fill="#1e1e1e">
<text x="103.00" y="39.40" font-size="23.3" text-anchor="end">0.01</text>
<text x="103.00" y="161.60" font-size="23.3" text-anchor="end">0.001</text>
<text x="103.00" y="283.20" font-size="23.3" text-anchor="end">0.0001</text>
<text x="79.80" y="405.20" font-size="23.3" text-anchor="end">10</text>
<path d="M81.2,392.5 H91.7" stroke="#222" stroke-width="1.0" fill="none"/>
<text x="93.30" y="397.20" font-size="16.8" text-anchor="start">5</text>
<text transform="translate(-0.60,222.00) scale(1.16,1)" font-size="23.5" text-anchor="start" font-style="italic">Y</text>
<text transform="translate(14.00,226.20) scale(1.32,1)" font-size="17" text-anchor="start" font-style="italic">X</text>
<text x="122.00" y="465.30" font-size="23.3" text-anchor="middle">0.06</text>
<text x="172.80" y="465.30" font-size="23.3" text-anchor="middle">0.1</text>
<text x="407.90" y="465.30" font-size="23.3" text-anchor="middle">1</text>
<text x="642.00" y="465.30" font-size="23.3" text-anchor="middle">10</text>
<text x="712.00" y="465.30" font-size="23.3" text-anchor="middle">20</text>
<text transform="translate(207.60,464.10) scale(1.27,1)" font-size="20.3" text-anchor="start" font-style="italic">z</text><text transform="translate(218.00,454.10) scale(1.32,1)" font-size="16" text-anchor="start" font-style="italic">ϕ</text><text x="216.90" y="473.60" font-size="24" text-anchor="start">+</text>
<text transform="translate(251.00,464.10) scale(1.27,1)" font-size="20.3" text-anchor="start" font-style="italic">z</text><text transform="translate(261.40,454.10) scale(1.32,1)" font-size="16" text-anchor="start" font-style="italic">ϕ</text><text x="261.30" y="470.70" font-size="15.8" text-anchor="start">0</text>
<text transform="translate(300.20,463.00) scale(1.27,1)" font-size="20.3" text-anchor="start" font-style="italic">z</text><text transform="translate(310.20,465.80) scale(1.1,1)" font-size="16.0" text-anchor="start" font-style="italic">c</text>
<text transform="translate(330.60,463.00) scale(1.27,1)" font-size="20.3" text-anchor="start" font-style="italic">z</text><text transform="translate(340.60,455.20) scale(1.32,1)" font-size="16.0" text-anchor="start" font-style="italic">N</text><text x="340.90" y="468.50" font-size="15.8" text-anchor="start">0</text>
<text transform="translate(363.60,463.00) scale(1.27,1)" font-size="20.3" text-anchor="start" font-style="italic">z</text><text transform="translate(373.60,455.20) scale(1.32,1)" font-size="16.0" text-anchor="start" font-style="italic">N</text><text x="372.90" y="472.17" font-size="24" text-anchor="start">+</text>
<text transform="translate(408.20,500.30) scale(1.27,1)" font-size="20.5" text-anchor="start" font-style="italic">z</text>
</g>
<g fill="none" stroke-width="1.35">
<line x1="836.3" y1="13.30" x2="905" y2="13.30" stroke="#00ff00"/>
<line x1="836.3" y1="44.08" x2="905" y2="44.08" stroke="#ff0000"/>
<line x1="836.3" y1="74.86" x2="897.3" y2="74.86" stroke="#ff0000" stroke-dasharray="9.1 3.8"/>
<line x1="836.3" y1="105.64" x2="905" y2="105.64" stroke="#0000ff"/>
<line x1="836.3" y1="136.42" x2="897.3" y2="136.42" stroke="#0000ff" stroke-dasharray="9.1 3.8"/>
<line x1="836.3" y1="167.20" x2="905" y2="167.20" stroke="#ff00ff"/>
<line x1="836.3" y1="197.98" x2="897.3" y2="197.98" stroke="#ff00ff" stroke-dasharray="9.1 3.8"/>
</g>
<g font-family="Liberation Serif, serif" fill="#1e1e1e">
<text transform="translate(784.60,18.60) scale(1.08,1)" font-size="23.5" text-anchor="start" font-style="italic">Y</text>
<text transform="translate(803.70,7.00) scale(1.04,1)" font-size="17.6" text-anchor="start">eq</text>
<text transform="translate(799.90,25.40) scale(1.13,1)" font-size="16.6" text-anchor="start" font-style="italic">N</text>
<text transform="translate(791.50,49.70) scale(1.08,1)" font-size="23.5" text-anchor="start" font-style="italic">Y</text>
<text x="810.60" y="42.40" font-size="16.6" text-anchor="start">0</text>
<text transform="translate(806.00,56.70) scale(1.13,1)" font-size="16.6" text-anchor="start" font-style="italic">N</text>
<text transform="translate(761.80,80.90) scale(1.08,1)" font-size="23.5" text-anchor="start" font-style="italic">Y</text>
<text x="780.90" y="73.30" font-size="16.6" text-anchor="start">0</text>
<path transform="translate(776.50,77.00) scale(10.2)" d="M 0.78,0.20 C 0.84,0.04 0.66,-0.04 0.56,0.10 C 0.44,0.28 0.46,0.60 0.32,0.84 C 0.24,0.98 0.05,1.02 0.04,0.90 C 0.03,0.78 0.24,0.76 0.44,0.88 C 0.66,1.0 0.92,1.02 1.12,0.78" fill="none" stroke="#222" stroke-width="0.1078" stroke-linecap="round"/>
<path d="M792.00,86.80 L802.60,63.50" stroke="#222" stroke-width="1.05" fill="none"/><text x="803.90" y="81.20" font-size="20.5" text-anchor="start" font-style="italic">ϵ</text><text x="813.40" y="84.60" font-size="16.6" text-anchor="start">0</text>
<text transform="translate(778.70,111.20) scale(1.08,1)" font-size="23.5" text-anchor="start" font-style="italic">Y</text>
<text transform="translate(798.20,100.60) scale(1.28,1)" font-size="16.6" text-anchor="start" font-style="italic">m</text>
<text transform="translate(815.00,103.10) scale(1.1,1)" font-size="11.5" text-anchor="start" font-style="italic">ℓ</text>
<text transform="translate(793.40,117.90) scale(1.13,1)" font-size="16.6" text-anchor="start" font-style="italic">N</text>
<text transform="translate(747.60,141.80) scale(1.08,1)" font-size="23.5" text-anchor="start" font-style="italic">Y</text>
<text transform="translate(766.50,131.30) scale(1.28,1)" font-size="16.6" text-anchor="start" font-style="italic">m</text>
<text transform="translate(783.40,133.80) scale(1.1,1)" font-size="11.5" text-anchor="start" font-style="italic">ℓ</text>
<path transform="translate(761.60,138.00) scale(10.2)" d="M 0.78,0.20 C 0.84,0.04 0.66,-0.04 0.56,0.10 C 0.44,0.28 0.46,0.60 0.32,0.84 C 0.24,0.98 0.05,1.02 0.04,0.90 C 0.03,0.78 0.24,0.76 0.44,0.88 C 0.66,1.0 0.92,1.02 1.12,0.78" fill="none" stroke="#222" stroke-width="0.1078" stroke-linecap="round"/>
<path d="M792.00,147.70 L802.60,124.40" stroke="#222" stroke-width="1.05" fill="none"/><text x="803.90" y="142.10" font-size="20.5" text-anchor="start" font-style="italic">ϵ</text><text x="813.40" y="145.50" font-size="16.6" text-anchor="start">0</text>
<text transform="translate(751.00,176.00) scale(1.08,1)" font-size="23.5" text-anchor="start" font-style="italic">Y</text>
<path d="M771.80,161.70 l2.7,-1.7 l2.5,7.4 L784.80,150.80 H794.90" fill="none" stroke="#222" stroke-width="1.0" stroke-linejoin="miter"/>
<text transform="translate(785.80,165.80) scale(1.05,1)" font-size="16.6" text-anchor="start">2</text>
<text transform="translate(798.80,165.80) scale(1.28,1)" font-size="16.6" text-anchor="start" font-style="italic">m</text>
<text transform="translate(814.80,168.50) scale(1.1,1)" font-size="11.5" text-anchor="start" font-style="italic">ℓ</text>
<text transform="translate(766.30,183.00) scale(1.13,1)" font-size="16.6" text-anchor="start" font-style="italic">N</text>
<text transform="translate(720.10,207.10) scale(1.08,1)" font-size="23.5" text-anchor="start" font-style="italic">Y</text>
<path d="M740.20,193.00 l2.7,-1.7 l2.5,7.4 L753.20,182.10 H763.20" fill="none" stroke="#222" stroke-width="1.0" stroke-linejoin="miter"/>
<text transform="translate(754.00,196.70) scale(1.05,1)" font-size="16.6" text-anchor="start">2</text>
<text transform="translate(767.30,196.70) scale(1.28,1)" font-size="16.6" text-anchor="start" font-style="italic">m</text>
<text transform="translate(783.40,199.40) scale(1.1,1)" font-size="11.5" text-anchor="start" font-style="italic">ℓ</text>
<path transform="translate(734.20,203.90) scale(10.2)" d="M 0.78,0.20 C 0.84,0.04 0.66,-0.04 0.56,0.10 C 0.44,0.28 0.46,0.60 0.32,0.84 C 0.24,0.98 0.05,1.02 0.04,0.90 C 0.03,0.78 0.24,0.76 0.44,0.88 C 0.66,1.0 0.92,1.02 1.12,0.78" fill="none" stroke="#222" stroke-width="0.1078" stroke-linecap="round"/>
<path d="M792.00,213.00 L802.60,189.70" stroke="#222" stroke-width="1.05" fill="none"/><text x="803.90" y="207.40" font-size="20.5" text-anchor="start" font-style="italic">ϵ</text><text x="813.40" y="210.80" font-size="16.6" text-anchor="start">0</text>
</g>
</svg>
</body></html>
